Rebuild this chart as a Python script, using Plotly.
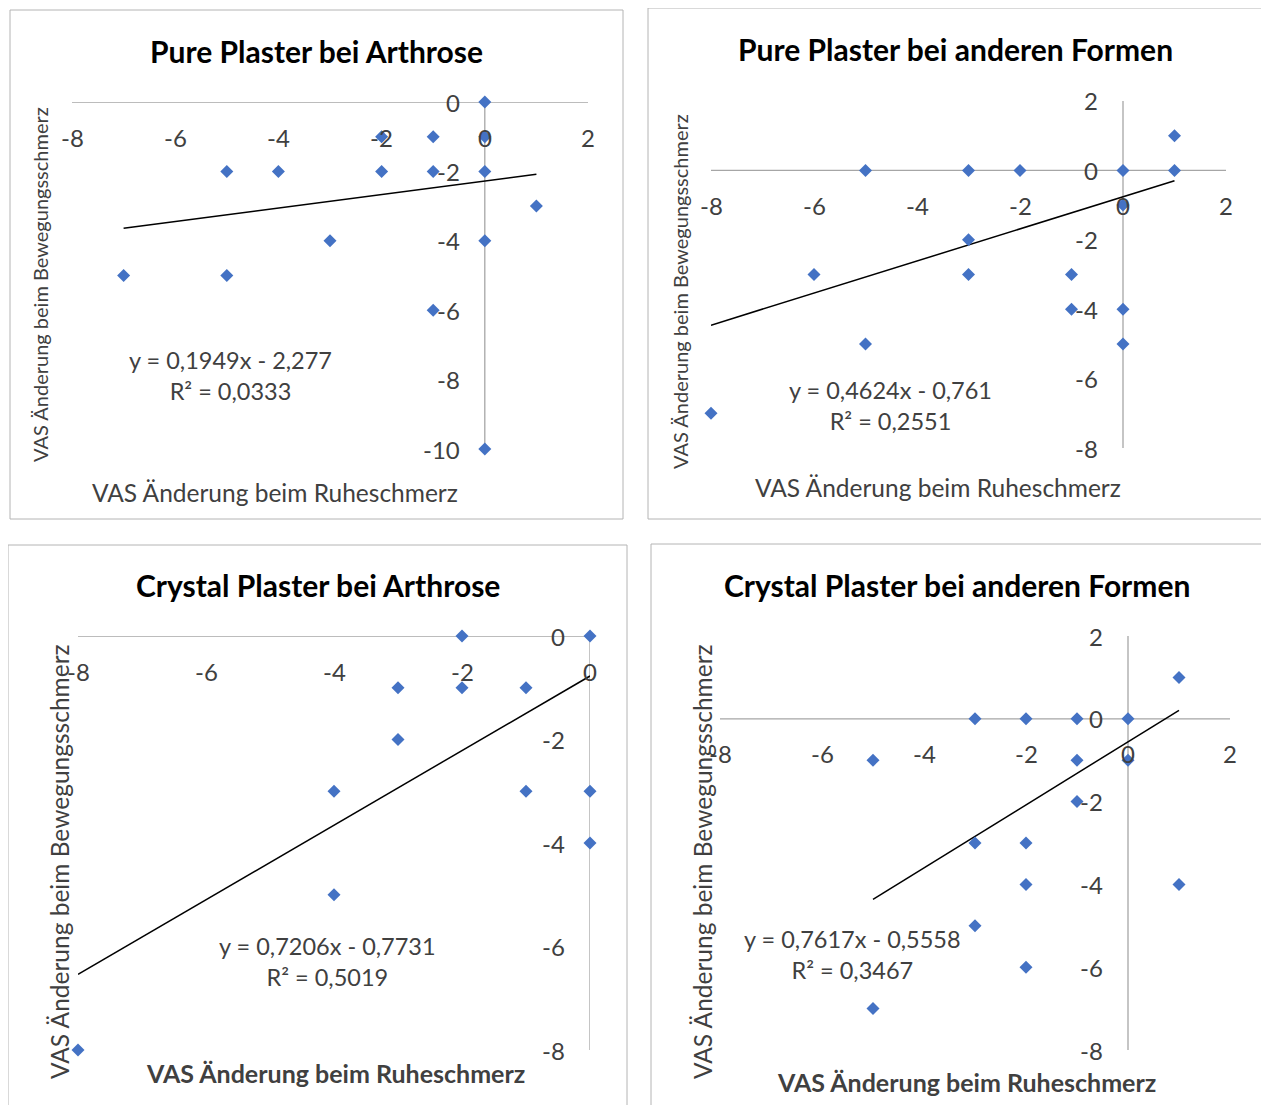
import plotly.graph_objects as go

# ---------------- data ----------------
titles = ["Pure Plaster bei Arthrose", "Pure Plaster bei anderen Formen",
          "Crystal Plaster bei Arthrose", "Crystal Plaster bei anderen Formen"]
x_title = "VAS Änderung beim Ruheschmerz"
y_title = "VAS Änderung beim Bewegungsschmerz"

# Chart 1: Pure Plaster bei Arthrose
c1_x = [0, -2, -1, 0, -5, -4, -2, -1, 0, 1, -3, 0, -7, -5, -1, 0]
c1_y = [0, -1, -1, -1, -2, -2, -2, -2, -2, -3, -4, -4, -5, -5, -6, -10]
# Chart 2: Pure Plaster bei anderen Formen
c2_x = [1, -5, -3, -2, 0, 1, 0, -3, -6, -3, -1, -1, 0, -5, 0, -8]
c2_y = [1, 0, 0, 0, 0, 0, -1, -2, -3, -3, -3, -4, -4, -5, -5, -7]
# Chart 3: Crystal Plaster bei Arthrose
c3_x = [-2, 0, -3, -2, -1, -3, -4, -1, 0, 0, -4, -8]
c3_y = [0, 0, -1, -1, -1, -2, -3, -3, -3, -4, -5, -8]
# Chart 4: Crystal Plaster bei anderen Formen
c4_x = [1, -3, -2, -1, 0, -5, -1, 0, -1, -3, -2, -2, 1, -3, -2, -5]
c4_y = [1, 0, 0, 0, 0, -1, -1, -1, -2, -3, -3, -4, -4, -5, -6, -7]

# linear trendlines (slope, intercept, R²) as shown in the charts
slopes = [0.1949, 0.4624, 0.7206, 0.7617]
intercepts = [-2.277, -0.761, -0.7731, -0.5558]
r2_values = ["0,0333", "0,2551", "0,5019", "0,3467"]
eq_texts = ["y = 0,1949x - 2,277", "y = 0,4624x - 0,761",
            "y = 0,7206x - 0,7731", "y = 0,7617x - 0,5558"]

# axis ranges and ticks
x_ranges = [[-8, 2], [-8, 2], [-8, 0], [-8, 2]]
y_ranges = [[-10, 0], [-8, 2], [-8, 0], [-8, 2]]
x_ticks = [[-8, -6, -4, -2, 0, 2], [-8, -6, -4, -2, 0, 2],
           [-8, -6, -4, -2, 0], [-8, -6, -4, -2, 0, 2]]
y_ticks = [[0, -2, -4, -6, -8, -10], [2, 0, -2, -4, -6, -8],
           [0, -2, -4, -6, -8], [2, 0, -2, -4, -6, -8]]

xs = [c1_x, c2_x, c3_x, c4_x]
ys = [c1_y, c2_y, c3_y, c4_y]

# ---------------- layout parameters ----------------
OFF = 8  # page body margin compensation
W, H = 1269 - OFF, 1113 - 2 * OFF
FONT = "Lato, Carlito, Calibri, sans-serif"
BLUE = "#4472C4"
AXIS_COL = "#a6a6a6"
TXT = "#404040"

def px(v):
    return (v - OFF) / W

def py(v):
    return 1 - (v - OFF) / H

# plot-area pixel boxes (left, right, top, bottom)
areas = [(72, 588, 102, 449), (711, 1226, 101, 448),
         (78, 590, 636, 1050), (720, 1230, 636, 1050)]
boxes = [(10, 10, 623, 519), (648, 8, 1262, 519),
         (8, 545, 627, 1125), (651, 544, 1265, 1125)]
title_pos = [(316, 51), (955, 49), (318, 585), (957, 585)]
xt_pos = [(275, 492), (938, 487), (335, 1073), (966, 1082)]
yt_pos = [(40, 285), (680, 292), (60, 862), (703, 862)]
eq_pos = [(230, 376), (890, 406), (327, 961), (853, 954)]
xt_bold = [False, False, True, True]
xt_size = [24.5, 24.5, 25, 25]
yt_size = [20, 20, 24.5, 24.5]
TITLE_SIZE = 30
TICK_SIZE = 24
EQ_SIZE = 23.5

fig = go.Figure()
annotations = []
shapes = []

for i in range(4):
    sfx = "" if i == 0 else str(i + 1)
    xa, ya = "x" + sfx, "y" + sfx
    l, r, t, b = areas[i]
    fig.update_layout(**{
        "xaxis" + sfx: dict(domain=[px(l), px(r)], range=x_ranges[i], anchor=ya,
                            showgrid=False, zeroline=False, showline=False,
                            showticklabels=False, ticks=""),
        "yaxis" + sfx: dict(domain=[py(b), py(t)], range=y_ranges[i], anchor=xa,
                            showgrid=False, zeroline=False, showline=False,
                            showticklabels=False, ticks=""),
    })
    # axis lines crossing at zero
    shapes.append(dict(type="line", xref=xa, yref=ya, x0=x_ranges[i][0], x1=x_ranges[i][1],
                       y0=0, y1=0, line=dict(color=AXIS_COL, width=1.3), layer="below"))
    shapes.append(dict(type="line", xref=xa, yref=ya, x0=0, x1=0,
                       y0=y_ranges[i][0], y1=y_ranges[i][1],
                       line=dict(color=AXIS_COL, width=1.3), layer="below"))
    # trendline over the data x-range
    tx = [min(xs[i]), max(xs[i])]
    ty = [slopes[i] * v + intercepts[i] for v in tx]
    fig.add_trace(go.Scatter(x=tx, y=ty, mode="lines", xaxis=xa, yaxis=ya,
                             line=dict(color="#000000", width=1.5), cliponaxis=False,
                             showlegend=False, hoverinfo="skip"))
    # data points
    fig.add_trace(go.Scatter(x=xs[i], y=ys[i], mode="markers", xaxis=xa, yaxis=ya,
                             marker=dict(symbol="diamond", size=10, color=BLUE),
                             cliponaxis=False, showlegend=False))
    # tick labels next to the crossing axes
    for v in x_ticks[i]:
        annotations.append(dict(x=v, y=0, xref=xa, yref=ya, text=str(v), showarrow=False,
                                xanchor="center", yanchor="middle", yshift=-35,
                                font=dict(family=FONT, size=TICK_SIZE, color=TXT)))
    for v in y_ticks[i]:
        annotations.append(dict(x=0, y=v, xref=xa, yref=ya, text=str(v), showarrow=False,
                                xanchor="right", yanchor="middle", xshift=-23,
                                font=dict(family=FONT, size=TICK_SIZE, color=TXT)))
    # chart title
    annotations.append(dict(x=px(title_pos[i][0]), y=py(title_pos[i][1]), xref="paper",
                            yref="paper", text="<b>" + titles[i] + "</b>", showarrow=False,
                            xanchor="center", yanchor="middle",
                            font=dict(family=FONT, size=TITLE_SIZE, color="#000000")))
    # axis titles
    xt_text = "<b>" + x_title + "</b>" if xt_bold[i] else x_title
    annotations.append(dict(x=px(xt_pos[i][0]), y=py(xt_pos[i][1]), xref="paper",
                            yref="paper", text=xt_text, showarrow=False,
                            xanchor="center", yanchor="middle",
                            font=dict(family=FONT, size=xt_size[i], color=TXT)))
    annotations.append(dict(x=px(yt_pos[i][0]), y=py(yt_pos[i][1]), xref="paper",
                            yref="paper", text=y_title, showarrow=False, textangle=-90,
                            xanchor="center", yanchor="middle",
                            font=dict(family=FONT, size=yt_size[i], color=TXT)))
    # trendline equation
    annotations.append(dict(x=px(eq_pos[i][0]), y=py(eq_pos[i][1]), xref="paper",
                            yref="paper", text=eq_texts[i] + "<br>R² = " + r2_values[i],
                            showarrow=False, xanchor="center", yanchor="middle",
                            font=dict(family=FONT, size=EQ_SIZE, color=TXT)))
    # chart border
    x0, y0, x1, y1 = boxes[i]
    shapes.append(dict(type="rect", xref="paper", yref="paper", x0=px(x0), x1=px(x1),
                       y0=py(y1), y1=py(y0), line=dict(color="#b4b4b4", width=1),
                       fillcolor="rgba(0,0,0,0)", layer="below"))

fig.update_layout(width=W, height=H, margin=dict(l=0, r=0, t=0, b=0),
                  paper_bgcolor="white", plot_bgcolor="white",
                  annotations=annotations, shapes=shapes, showlegend=False)

fig.write_html("out.html")
